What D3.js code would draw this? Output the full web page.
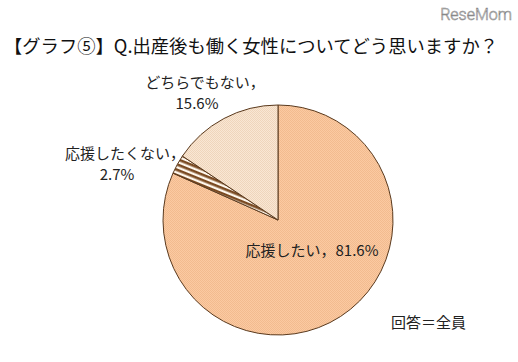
<!DOCTYPE html>
<html>
<head>
<meta charset="utf-8">
<script src="https://cdn.jsdelivr.net/npm/d3@7"></script>
<style>
  body { margin: 0; background: #fff; }
  text { font-family: "Noto Sans CJK JP", "Noto Sans", sans-serif; }
</style>
</head>
<body>
<div id="chart"></div>
<script>
var categories = ["応援したい", "応援したくない", "どちらでもない"];
var values = [81.6, 2.7, 15.6];
var labelLines = [["応援したい，81.6%"], ["応援したくない，", "2.7%"], ["どちらでもない，", "15.6%"]];

var width = 518, height = 362;
var cx = 278, cy = 220, radius = 115;

var svg = d3.select("#chart").append("svg")
    .attr("width", width)
    .attr("height", height);

var defs = svg.append("defs");

// fine checker textures like the original bitmap
function checker(id, a, b) {
  var p = defs.append("pattern")
      .attr("id", id)
      .attr("width", 2).attr("height", 2)
      .attr("patternUnits", "userSpaceOnUse");
  p.append("rect").attr("width", 2).attr("height", 2).attr("fill", a);
  p.append("rect").attr("width", 1).attr("height", 1).attr("fill", b);
  p.append("rect").attr("x", 1).attr("y", 1).attr("width", 1).attr("height", 1).attr("fill", b);
}
checker("pMain", "#fbcaa2", "#f2bb8f");
checker("pLight", "#f9e7d4", "#efd5bb");

var hatch = defs.append("pattern")
    .attr("id", "pHatch")
    .attr("width", 5).attr("height", 5)
    .attr("patternUnits", "userSpaceOnUse")
    .attr("patternTransform", "rotate(22)");
hatch.append("rect").attr("width", 5).attr("height", 5).attr("fill", "#fff8ee");
hatch.append("rect").attr("width", 5).attr("height", 2.6).attr("fill", "#7a4a22");

var fills = ["url(#pMain)", "url(#pHatch)", "url(#pLight)"];

var pie = d3.pie().sort(null).value(function(d) { return d; });
var arc = d3.arc().innerRadius(0).outerRadius(radius);

var g = svg.append("g").attr("transform", "translate(" + cx + "," + cy + ")");

g.selectAll("path")
    .data(pie(values))
    .enter().append("path")
    .attr("d", arc)
    .attr("fill", function(d, i) { return fills[i]; })
    .attr("stroke", "#5a3a1e")
    .attr("stroke-width", 1);

// label anchor positions relative to centre
var labelPos = [[34, 36], [-153, -61], [-73, -132]];
var lineGap = 21;

labelLines.forEach(function(lines, i) {
  var t = g.append("text")
      .attr("text-anchor", "middle")
      .attr("font-size", 15)
      .attr("fill", "#222");
  lines.forEach(function(s, j) {
    t.append("tspan")
        .attr("x", labelPos[i][0] - (j > 0 ? 8 : 0))
        .attr("y", labelPos[i][1] + j * lineGap)
        .text(s);
  });
});

// title
svg.append("text")
    .attr("x", 4)
    .attr("y", 53)
    .attr("font-size", 18)
    .attr("textLength", 494)
    .attr("lengthAdjust", "spacingAndGlyphs")
    .attr("fill", "#111")
    .text("【グラフ⑤】Q.出産後も働く女性についてどう思いますか？");

// footnote
svg.append("text")
    .attr("x", 391)
    .attr("y", 328)
    .attr("font-size", 15)
    .attr("fill", "#222")
    .text("回答＝全員");

// watermark
svg.append("text")
    .attr("x", 512)
    .attr("y", 20)
    .attr("text-anchor", "end")
    .attr("font-size", 16)
    .attr("fill", "#fff")
    .attr("stroke", "#888")
    .attr("stroke-width", 0.6)
    .style("font-family", "Roboto, sans-serif")
    .style("font-weight", 300)
    .text("ReseMom");
</script>
</body>
</html>
